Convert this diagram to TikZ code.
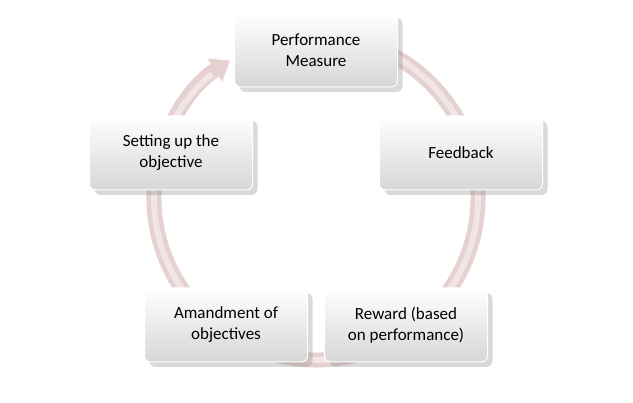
\documentclass[tikz,border=0pt]{standalone}
\usepackage{fontspec}
\setmainfont{Carlito}
\usetikzlibrary{shadows,arrows.meta}
\begin{document}
\begin{tikzpicture}[x=1pt,y=1pt,
  cbox/.style={rounded corners=6pt,minimum width=163pt,minimum height=74pt,align=center,
    top color=white,bottom color=black!16,draw=white,line width=1pt,
    drop shadow={opacity=0.3,shadow xshift=5pt,shadow yshift=-5pt},font=\fontsize{17}{21}\selectfont},
  ring/.style={line width=15pt,draw=red!45!black!18}]
\useasboundingbox (0,0) rectangle (633,403);
\coordinate (c) at (316,205);
\draw[ring,-{Triangle[length=18pt,width=26pt]}] ([shift={(80:162)}]c) arc[start angle=80,end angle=-238,radius=162];
\draw[line width=6pt,draw=white,opacity=0.45] ([shift={(80:162)}]c) arc[start angle=80,end angle=-230,radius=162];
\node[cbox] (pm) at (316,353) {Performance\\Measure};
\node[cbox] (fb) at (461,250) {Feedback};
\node[cbox] (rw) at (406,78) {Reward (based\\on performance)};
\node[cbox] (am) at (226,78) {Amandment of\\objectives};
\node[cbox] (su) at (171,250) {Setting up the\\objective};
\end{tikzpicture}
\end{document}
